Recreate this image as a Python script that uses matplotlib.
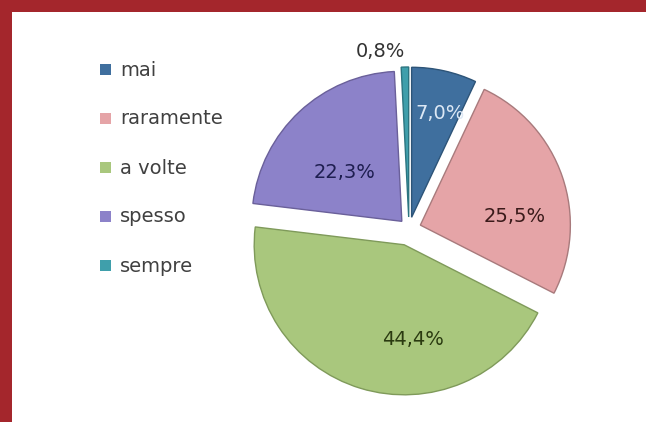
import numpy as np
import matplotlib.pyplot as plt
from matplotlib.patches import Rectangle

# data
categories = ['mai', 'raramente', 'a volte', 'spesso', 'sempre']
values = [7.0, 25.5, 44.4, 22.3, 0.8]
label_texts = ['7,0%', '25,5%', '44,4%', '22,3%', '0,8%']

colors = ['#3f6f9e', '#e5a4a7', '#a9c77d', '#8c82c9', '#3f9fab']
edge_colors = ['#2d5478', '#a87a7c', '#7f9a5a', '#6a609a', '#2c7580']
text_colors = ['#dce8f5', '#3a1a1a', '#2a3a10', '#1e1e50', '#333333']
explode = [0.08, 0.08, 0.11, 0.07, 0.08]

W, H = 646, 422
fig = plt.figure(figsize=(W / 100, H / 100), dpi=100, facecolor='#a4262c')

# white panel inside the red frame (frame only on top and left)
bg = fig.add_axes([12 / W, 0, 1 - 12 / W, 1 - 12 / H], zorder=-1)
bg.axis('off')
bg.add_patch(Rectangle((0, 0), 1, 1, transform=bg.transAxes,
                       facecolor='white', edgecolor='none'))

# pie axes: centre at (409, 229) px from top-left, radius 150 px
cx, cy, r = 409, 229, 150
half = 1.2 * r
ax = fig.add_axes([(cx - half) / W, (H - cy - half) / H, 2 * half / W, 2 * half / H])
ax.axis('off')

wedges, _ = ax.pie(values, colors=colors, explode=explode, startangle=90,
                   counterclock=False, radius=1.0,
                   wedgeprops=dict(linewidth=1.0))
for w, ec in zip(wedges, edge_colors):
    w.set_edgecolor(ec)
ax.set_xlim(-1.2, 1.2)
ax.set_ylim(-1.2, 1.2)
ax.set_aspect('equal')

# label positions: (angle clockwise from 12 o'clock, distance in radii)
label_pos = [(15, 0.80), (83, 0.71), (178, 0.74), (311, 0.57), (-9, 1.2)]
for txt, (ang, d), tc in zip(label_texts, label_pos, text_colors):
    a = np.deg2rad(ang)
    ax.text(d * np.sin(a), d * np.cos(a), txt, ha='center', va='center',
            fontsize=14, color=tc, family='DejaVu Sans')

# legend
lax = fig.add_axes([0, 0, 1, 1], facecolor='none')
lax.set_xlim(0, W)
lax.set_ylim(H, 0)
lax.axis('off')
leg_y = [70, 119, 168, 217, 266]
for name, col, y in zip(categories, colors, leg_y):
    lax.add_patch(Rectangle((100, y - 6), 11, 11, facecolor=col, edgecolor='none'))
    lax.text(120, y, name, ha='left', va='center', fontsize=14,
             color='#404040', family='DejaVu Sans')

fig.savefig('out.png', dpi=100)
